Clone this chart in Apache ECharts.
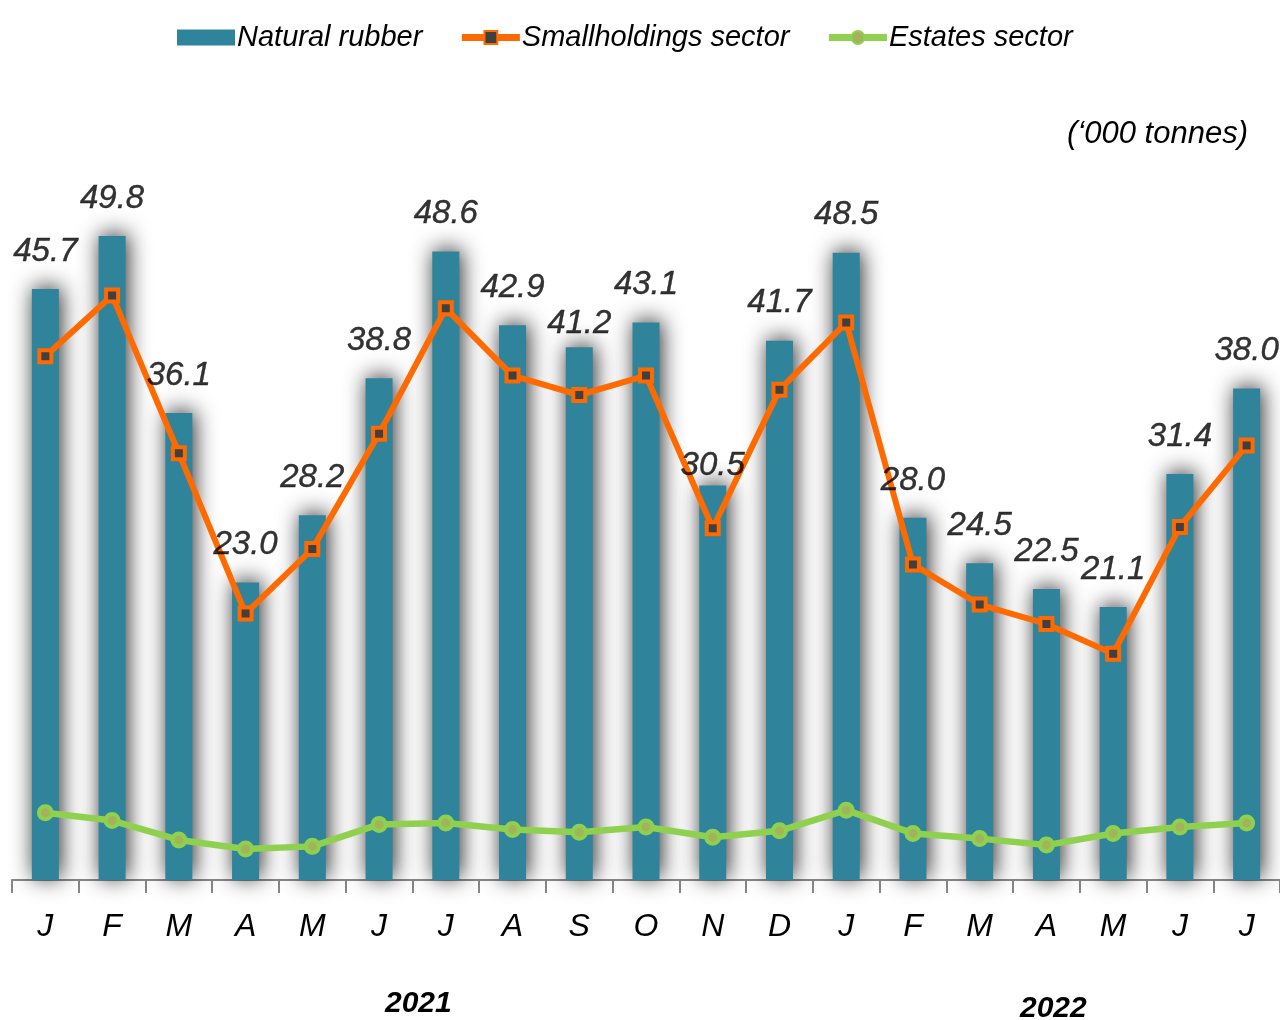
<!DOCTYPE html>
<html>
<head>
<meta charset="utf-8">
<title>Natural rubber production</title>
<script src="https://cdn.jsdelivr.net/npm/echarts@6/dist/echarts.min.js"></script>
<style>
  html, body { margin: 0; padding: 0; background: #fff; }
  #chart { width: 1280px; height: 1020px; }
</style>
</head>
<body>
<div id="chart"></div>
<script>
// monthly production, '000 tonnes (Jan 2021 - Jul 2022)
const months = ['J', 'F', 'M', 'A', 'M', 'J', 'J', 'A', 'S', 'O', 'N', 'D', 'J', 'F', 'M', 'A', 'M', 'J', 'J'];
const naturalRubber = [45.7, 49.8, 36.1, 23.0, 28.2, 38.8, 48.6, 42.9, 41.2, 43.1, 30.5, 41.7, 48.5, 28.0, 24.5, 22.5, 21.1, 31.4, 38.0];
const smallholdings = [40.5, 45.2, 33.0, 20.6, 25.6, 34.5, 44.2, 39.0, 37.5, 39.0, 27.2, 37.9, 43.1, 24.4, 21.3, 19.8, 17.5, 27.3, 33.6];
const estates = [5.2, 4.6, 3.1, 2.4, 2.6, 4.3, 4.4, 3.9, 3.7, 4.1, 3.3, 3.8, 5.4, 3.6, 3.2, 2.7, 3.6, 4.1, 4.4];
const years = ['2021', '2022'];

const font = "'Liberation Sans', Arial, sans-serif";
const barColor = '#2f839b';
const orange = '#ff6a00';
const green = '#8fd14f';

// labels that sit closer to their bar than the rest
const labelDistance = { 8: 7, 10: 3 };

const chart = echarts.init(document.getElementById('chart'));

const option = {
  backgroundColor: '#fff',
  animation: false,
  legend: {
    top: 18,
    left: 172,
    itemWidth: 58,
    itemHeight: 16,
    itemGap: 36,
    textStyle: {
      fontFamily: font,
      fontStyle: 'italic',
      fontSize: 29,
      color: '#000',
      padding: [0, 0, 0, -3]
    },
    data: [
      { name: 'Natural rubber', icon: 'rect' },
      { name: 'Smallholdings sector', lineStyle: { width: 7 } },
      { name: 'Estates sector', lineStyle: { width: 7 } }
    ]
  },
  grid: {
    left: 12,
    top: 104,
    width: 1269,
    height: 776
  },
  xAxis: {
    type: 'category',
    data: months,
    axisLine: { lineStyle: { color: '#888', width: 2 } },
    axisTick: { show: true, length: 13, lineStyle: { color: '#888', width: 2 } },
    axisLabel: {
      margin: 31,
      fontFamily: font,
      fontStyle: 'italic',
      fontSize: 32,
      color: '#000'
    }
  },
  yAxis: {
    type: 'value',
    min: 0,
    max: 60,
    show: false,
    splitLine: { show: false }
  },
  graphic: [
    {
      type: 'text',
      right: 32,
      top: 119,
      style: {
        text: '(\u2018000 tonnes)',
        fontFamily: font,
        fontStyle: 'italic',
        fontSize: 31,
        fill: '#000'
      }
    },
    {
      type: 'text',
      left: 385,
      top: 989,
      style: {
        text: years[0],
        fontFamily: font,
        fontStyle: 'italic',
        fontWeight: 'bold',
        fontSize: 30,
        fill: '#000'
      }
    },
    {
      type: 'text',
      left: 1020,
      top: 994,
      style: {
        text: years[1],
        fontFamily: font,
        fontStyle: 'italic',
        fontWeight: 'bold',
        fontSize: 30,
        fill: '#000'
      }
    }
  ],
  series: [
    {
      name: 'Natural rubber',
      type: 'bar',
      barWidth: 27,
      data: naturalRubber,
      itemStyle: {
        color: barColor,
        shadowColor: 'rgba(0, 0, 0, 0.85)',
        shadowBlur: 22,
        shadowOffsetX: 2,
        shadowOffsetY: -2
      }
    },
    {
      name: 'Smallholdings sector',
      type: 'line',
      data: smallholdings,
      symbol: 'rect',
      symbolSize: 12,
      lineStyle: { color: orange, width: 6 },
      itemStyle: { color: '#404040', borderColor: orange, borderWidth: 4 },
      z: 3
    },
    {
      name: 'Estates sector',
      type: 'line',
      data: estates,
      symbol: 'circle',
      symbolSize: 13,
      lineStyle: { color: green, width: 6.5 },
      itemStyle: { color: '#a3b35c', borderColor: green, borderWidth: 4 },
      z: 3
    },
    {
      // value labels above the bars, drawn over the lines
      name: 'labels',
      type: 'scatter',
      symbolSize: 0,
      silent: true,
      z: 10,
      data: naturalRubber.map((v, i) => labelDistance[i] !== undefined
        ? { value: v, label: { distance: labelDistance[i] } }
        : v),
      label: {
        show: true,
        position: 'top',
        distance: 21,
        fontFamily: font,
        fontStyle: 'italic',
        fontSize: 33,
        color: '#000',
        textBorderColor: '#000',
        textBorderWidth: 0.4,
        formatter: p => Number(p.value).toFixed(1)
      }
    }
  ]
};

chart.setOption(option);
</script>
</body>
</html>
